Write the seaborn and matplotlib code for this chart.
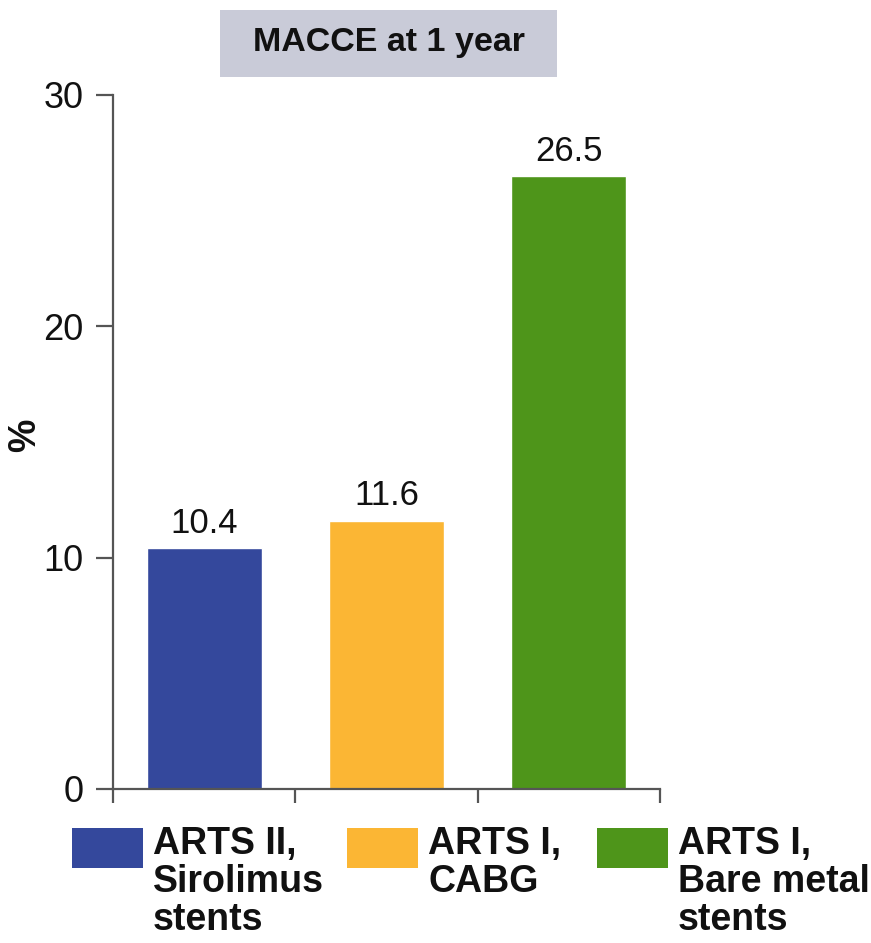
import matplotlib
matplotlib.use("Agg")
import matplotlib.pyplot as plt
from matplotlib.patches import Rectangle
import seaborn as sns
import pandas as pd

# Data
groups = ["ARTS II,\nSirolimus\nstents", "ARTS I,\nCABG", "ARTS I,\nBare metal\nstents"]
macce_pct = [10.4, 11.6, 26.5]
bar_colors = ["#34489c", "#fbb634", "#4e951a"]
y_ticks = [0, 10, 20, 30]
title = "MACCE at 1 year"

sns.set_theme(style="white")
plt.rcParams["font.family"] = ["Liberation Sans", "DejaVu Sans"]

W, H = 871, 943
fig = plt.figure(figsize=(W / 100, H / 100), dpi=100)
ax = fig.add_axes([113 / W, 1 - 789 / H, (660 - 113) / W, (789 - 95) / H])

df = pd.DataFrame({"group": groups, "pct": macce_pct})
sns.barplot(data=df, x="group", y="pct", hue="group", palette=bar_colors,
            width=0.63, legend=False, ax=ax, saturation=1)

for cont in ax.containers:
    ax.bar_label(cont, fmt="%.1f", padding=6, fontsize=25, color="#111111")

ax.set_xlim(-0.5, 2.5)
ax.set_ylim(0, 30)
ax.set_yticks(y_ticks)
ax.set_yticklabels([str(t) for t in y_ticks], fontsize=26, color="#111111")
ax.set_xticks([-0.5, 0.5, 1.5, 2.5])
ax.set_xticklabels([])
ax.set_xlabel("")
ax.set_ylabel("%", fontsize=27, fontweight="bold", color="#111111")
ax.yaxis.set_label_coords(-0.128, 0.51)

spine_col = "#555555"
for s in ["top", "right"]:
    ax.spines[s].set_visible(False)
for s in ["left", "bottom"]:
    ax.spines[s].set_color(spine_col)
    ax.spines[s].set_linewidth(1.6)
ax.tick_params(axis="y", direction="out", length=12, width=1.6, color=spine_col, pad=9, left=True)
ax.tick_params(axis="x", direction="out", length=10, width=1.6, color=spine_col, bottom=True)

# Title box
fig.add_artist(Rectangle((220 / W, 1 - 77 / H), (557 - 220) / W, (77 - 10) / H,
                         transform=fig.transFigure, facecolor="#c9cbd8", edgecolor="none"))
fig.text((220 + 557) / 2 / W, 1 - 43 / H, title, ha="center", va="center",
         fontsize=24.5, fontweight="bold", color="#111111")

# Legend
box_x = [72, 347, 597]
text_x = [153, 428, 678]
for bx, tx, lab, col in zip(box_x, text_x, groups, bar_colors):
    fig.add_artist(Rectangle((bx / W, 1 - 868 / H), 71 / W, 40 / H,
                             transform=fig.transFigure, facecolor=col, edgecolor="none"))
    fig.text(tx / W, 1 - 826 / H, lab, ha="left", va="top", fontsize=27,
             fontweight="bold", color="#111111", linespacing=1.08)

fig.savefig("out.png", dpi=100)
